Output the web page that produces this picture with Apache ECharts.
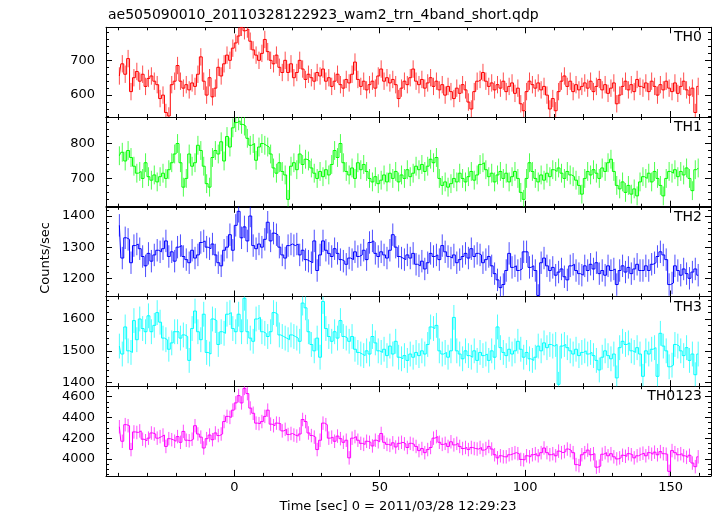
<!DOCTYPE html>
<html><head><meta charset="utf-8">
<script src="https://cdn.jsdelivr.net/npm/echarts@6/dist/echarts.min.js"></script>
<style>html,body{margin:0;padding:0;background:#fff}#c{width:717px;height:516px}</style>
</head><body><div id="c"></div>
<script>
// ---- data (counts/sec, 1 s bins) ----
const bandNames = ['TH0', 'TH1', 'TH2', 'TH3', 'TH0123'];
const binStart = -39.5;   // centre of first bin [s]
const binWidth = 1;       // s

const th0 = [
 655,690,660,705,610,650,668,640,660,625,648,655,640,630,590,600,550,540,630,640,
 685,640,620,630,615,635,625,660,710,640,600,650,595,620,680,655,690,715,700,735,
 750,770,795,785,790,755,730,715,700,720,760,725,700,690,715,680,665,700,665,690,
 650,665,700,675,645,660,650,640,665,655,675,640,650,625,640,660,630,620,645,635,
 660,695,645,625,640,615,630,640,620,655,675,640,650,635,645,630,590,620,640,630,
 650,675,640,630,645,620,635,650,625,640,615,630,600,625,610,590,620,605,630,615,
 580,560,610,640,645,665,640,625,635,615,630,620,640,610,625,635,605,620,575,555,
 610,640,630,620,635,615,625,600,560,590,555,610,640,655,625,640,610,630,615,625,
 635,620,640,610,625,645,615,630,605,620,635,575,600,625,640,615,630,610,645,625,
 620,635,610,640,625,600,630,615,640,620,610,635,605,625,640,615,600,620,550,625
];
const th1 = [
 765,775,750,780,760,735,715,720,700,745,705,695,710,690,705,715,700,725,745,770,
 800,745,675,700,770,735,745,795,780,735,685,675,760,780,770,805,750,820,790,845,
 860,865,855,850,815,795,800,752,790,800,795,790,770,730,715,745,720,710,640,735,
 745,725,770,740,755,750,730,715,700,720,705,725,710,740,780,760,800,745,720,710,
 730,700,745,725,740,720,700,690,705,685,695,710,690,715,700,720,690,710,700,725,
 705,715,735,725,740,720,735,755,745,760,700,680,690,675,685,700,690,715,700,690,
 705,720,695,710,740,745,725,705,715,690,710,720,700,715,690,705,720,700,660,640,
 700,745,720,700,690,710,695,715,705,725,720,730,715,700,720,710,705,695,680,655,
 700,720,710,725,715,700,730,720,745,755,720,680,670,690,660,680,655,670,650,690,
 705,700,715,690,720,700,680,650,700,720,715,725,705,720,710,730,700,665,725,730
];
const th2 = [
 1370,1265,1330,1325,1250,1305,1310,1295,1270,1240,1280,1255,1275,1290,1285,1295,1320,1270,1285,1255,
 1300,1305,1270,1260,1250,1290,1265,1275,1315,1320,1300,1295,1310,1275,1250,1240,1290,1300,1340,1290,
 1370,1415,1330,1365,1320,1400,1305,1295,1310,1300,1325,1380,1320,1345,1340,1300,1275,1265,1305,1310,
 1305,1310,1275,1290,1260,1255,1250,1320,1225,1275,1320,1290,1280,1270,1295,1280,1260,1255,1245,1265,
 1260,1285,1270,1275,1290,1260,1315,1320,1280,1270,1285,1275,1265,1290,1340,1300,1270,1265,1260,1275,
 1265,1280,1245,1240,1255,1230,1250,1280,1270,1275,1260,1305,1285,1270,1265,1275,1250,1260,1270,1280,
 1265,1295,1270,1280,1275,1250,1260,1270,1240,1215,1195,1170,1180,1225,1280,1235,1240,1225,1230,1285,
 1285,1235,1240,1225,1145,1250,1265,1240,1225,1235,1210,1220,1230,1205,1195,1240,1245,1225,1215,1210,
 1240,1225,1245,1230,1250,1215,1225,1210,1240,1225,1230,1180,1225,1240,1220,1235,1215,1230,1245,1225,
 1225,1240,1225,1245,1250,1270,1285,1275,1260,1180,1185,1240,1225,1210,1230,1215,1200,1220,1230,1210
];
const th3 = [
 1515,1490,1575,1500,1495,1595,1535,1600,1570,1560,1610,1560,1580,1620,1590,1540,1535,1505,1525,1560,
 1560,1540,1550,1545,1470,1570,1625,1560,1535,1615,1495,1490,1600,1595,1520,1560,1555,1615,1620,1570,
 1560,1615,1560,1665,1560,1540,1530,1600,1605,1560,1555,1545,1560,1620,1615,1550,1545,1540,1535,1550,
 1545,1540,1530,1650,1635,1560,1520,1500,1540,1480,1655,1570,1545,1530,1560,1540,1595,1545,1540,1530,
 1545,1505,1495,1490,1485,1500,1490,1545,1525,1500,1495,1505,1485,1515,1490,1530,1480,1475,1485,1470,
 1490,1480,1495,1485,1500,1490,1520,1575,1570,1580,1500,1490,1495,1480,1500,1605,1500,1490,1475,1500,
 1485,1480,1500,1470,1495,1485,1490,1470,1500,1480,1575,1510,1495,1485,1505,1490,1500,1530,1505,1480,
 1495,1475,1470,1480,1515,1500,1525,1510,1520,1515,1520,1395,1515,1520,1510,1500,1490,1505,1485,1495,
 1500,1490,1495,1485,1470,1440,1480,1500,1485,1475,1490,1415,1510,1530,1520,1525,1500,1495,1510,1490,
 1420,1500,1490,1505,1510,1420,1555,1515,1500,1450,1455,1520,1515,1500,1485,1510,1470,1490,1425,1490
];
const th0123 = [
 4310,4170,4330,4320,4090,4260,4255,4270,4190,4175,4200,4250,4240,4200,4215,4230,4120,4195,4185,4170,
 4215,4160,4265,4180,4175,4190,4320,4240,4210,4105,4195,4230,4185,4250,4225,4240,4360,4410,4400,4470,
 4540,4610,4540,4680,4630,4490,4440,4345,4340,4360,4410,4470,4335,4320,4345,4340,4270,4285,4235,4245,
 4230,4220,4240,4380,4360,4250,4225,4210,4090,4180,4345,4330,4200,4210,4170,4220,4195,4160,4180,4010,
 4200,4215,4180,4150,4140,4170,4160,4125,4180,4165,4245,4160,4140,4130,4155,4115,4150,4160,4145,4110,
 4150,4140,4120,4080,4100,4060,4090,4110,4200,4215,4160,4140,4150,4120,4165,4135,4150,4120,4100,4110,
 4090,4110,4100,4095,4110,4085,4100,4120,4095,4040,4010,4030,4020,4020,4040,4050,4060,4050,3995,3990,
 4030,4020,4040,4050,4030,4060,4105,4060,4040,4050,4030,4075,4060,4070,4095,4080,4060,3945,3935,4040,
 4060,4085,4040,4050,3920,3930,4045,4060,4030,4050,4020,4000,4010,4035,4025,4050,4040,4010,4030,4045,
 4055,4030,4060,4045,4065,4040,4070,4050,4045,3880,4080,4060,4040,4050,4030,4015,4035,3960,3925,4020
];
const bandErrors = [25, 27, 36, 39, 65];   // typical 1-sigma error per bin

// ---- axes / ticks ----
const xMin = -44.1, xMax = 163.9;
const xMajorTicks = [0, 50, 100, 150];
const xMinorTicks = [-40,-30,-20,-10,0,10,20,30,40,50,60,70,80,90,100,110,120,130,140,150,160];
const yMinArr = [537, 619, 1141.6, 1389, 3836];
const yMaxArr = [795, 876, 1429.5, 1670.6, 4701];
const yMajorTicks = [[600,700],[700,800],[1200,1300,1400],[1400,1500,1600],[4000,4200,4400,4600]];
const yMinorStep = [20, 20, 20, 20, 50];

const titleText = 'ae505090010_20110328122923_wam2_trn_4band_short.qdp';
const xTitle = 'Time [sec] 0 = 2011/03/28 12:29:23';
const yTitle = 'Counts/sec';
const colors = ['#ff0000', '#00ff00', '#0000ff', '#00ffff', '#ff00ff'];
const seriesVals = [th0, th1, th2, th3, th0123];

const FONT = 'DejaVu Sans';
const panelTop = [27.3, 117, 206.8, 296.5, 386.2];
const panelH = 89.7;
const gLeft = 106, gWidth = 605;

const grids = [], xAxes = [], yAxes = [], series = [], graphics = [];
function minorList(lo, hi, step) {
  const out = [];
  for (let v = Math.ceil(lo / step) * step; v <= hi; v += step) out.push(v);
  return out;
}
const plain = v => String(v);
const lineSt = {color: '#000', width: 1};
for (let k = 0; k < 5; k++) {
  grids.push({left: gLeft, width: gWidth, top: panelTop[k], height: panelH, show: false});
  const xBase = {type: 'value', gridIndex: k, min: xMin, max: xMax, splitLine: {show: false}};
  ['bottom', 'top'].forEach(pos => {
    xAxes.push(Object.assign({}, xBase, {
      position: pos,
      axisLine: {show: true, onZero: false, lineStyle: lineSt},
      axisTick: {show: true, inside: true, length: 6, customValues: xMajorTicks, lineStyle: lineSt},
      axisLabel: (pos === 'bottom' && k === 4)
        ? {show: true, customValues: xMajorTicks, margin: 5, fontFamily: FONT, fontSize: 13, color: '#000', formatter: plain}
        : {show: false}
    }));
    xAxes.push(Object.assign({}, xBase, {
      position: pos,
      axisLine: {show: false, onZero: false},
      axisTick: {show: true, inside: true, length: 3, customValues: xMinorTicks, lineStyle: lineSt},
      axisLabel: {show: false}
    }));
  });
  const yBase = {type: 'value', gridIndex: k, min: yMinArr[k], max: yMaxArr[k], splitLine: {show: false}};
  const yMin = minorList(yMinArr[k], yMaxArr[k], yMinorStep[k]);
  ['left', 'right'].forEach(pos => {
    yAxes.push(Object.assign({}, yBase, {
      position: pos,
      axisLine: {show: true, onZero: false, lineStyle: lineSt},
      axisTick: {show: true, inside: true, length: 6, customValues: yMajorTicks[k], lineStyle: lineSt},
      axisLabel: pos === 'left'
        ? {show: true, customValues: yMajorTicks[k], margin: 11, fontFamily: FONT, fontSize: 13, color: '#000', formatter: plain}
        : {show: false}
    }));
    yAxes.push(Object.assign({}, yBase, {
      position: pos,
      axisLine: {show: false, onZero: false},
      axisTick: {show: true, inside: true, length: 3, customValues: yMin, lineStyle: lineSt},
      axisLabel: {show: false}
    }));
  });
  const vals = seriesVals[k];
  const err = bandErrors[k];
  const col = colors[k];
  series.push({
    type: 'custom', xAxisIndex: 4 * k, yAxisIndex: 4 * k, clip: true, animation: false, z: 2,
    data: vals.map((v, i) => [binStart + i * binWidth, v - err, v + err]),
    renderItem: function (params, api) {
      const p1 = api.coord([api.value(0), api.value(1)]);
      const p2 = api.coord([api.value(0), api.value(2)]);
      return {type: 'line', shape: {x1: p1[0], y1: p1[1], x2: p2[0], y2: p2[1]},
              style: {stroke: col, lineWidth: 1, opacity: 0.7}};
    }
  });
  series.push({
    type: 'line', xAxisIndex: 4 * k, yAxisIndex: 4 * k, step: 'middle', symbol: 'none',
    animation: false, z: 3, clip: true,
    lineStyle: {color: col, width: 1},
    data: vals.map((v, i) => [binStart + i * binWidth, v])
  });
  graphics.push({
    type: 'text', x: 702, y: panelTop[k] + 10.5, z: 10,
    style: {text: bandNames[k], align: 'right', verticalAlign: 'middle',
            font: '14px "' + FONT + '"', fill: '#000'}
  });
}
graphics.push({type: 'text', x: 108, y: 15.5,
  style: {text: titleText, align: 'left', verticalAlign: 'middle', font: '14px "' + FONT + '"', fill: '#000'}});
graphics.push({type: 'text', x: 398, y: 506.5,
  style: {text: xTitle, align: 'center', verticalAlign: 'middle', font: '13px "' + FONT + '"', fill: '#000'}});
graphics.push({type: 'text', x: 46, y: 258, rotation: Math.PI / 2,
  style: {text: yTitle, align: 'center', verticalAlign: 'middle', font: '13px "' + FONT + '"', fill: '#000'}});

const chart = echarts.init(document.getElementById('c'), null, {renderer: 'canvas'});
chart.setOption({
  animation: false,
  backgroundColor: '#fff',
  grid: grids, xAxis: xAxes, yAxis: yAxes, series: series, graphic: graphics
});
</script>
</body></html>
